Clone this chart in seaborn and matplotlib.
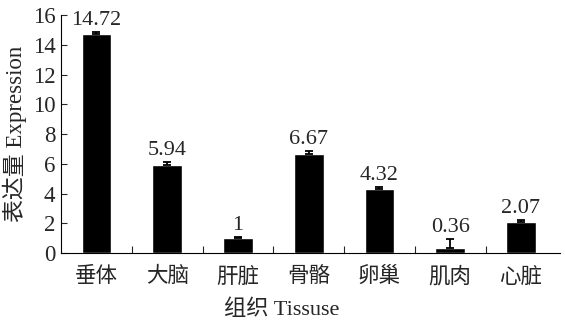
import numpy as np
import seaborn as sns
import matplotlib.pyplot as plt
from matplotlib.ticker import FixedLocator

tissues = ["垂体", "大脑", "肝脏", "骨骼", "卵巢", "肌肉", "心脏"]
expression = [14.72, 5.94, 1.0, 6.67, 4.32, 0.36, 2.07]
errors = [0.12, 0.2, 0.06, 0.18, 0.1, 0.6, 0.15]
value_labels = ["14.72", "5.94", "1", "6.67", "4.32", "0.36", "2.07"]

sns.set_style("ticks")
plt.rcParams['font.family'] = ['Liberation Serif', 'Noto Sans CJK SC']
plt.rcParams['xtick.direction'] = 'in'
plt.rcParams['ytick.direction'] = 'in'

fig = plt.figure(figsize=(5.65, 3.22), dpi=100)
ax = fig.add_axes([0.108, 0.214, 0.883, 0.739])

sns.barplot(x=tissues, y=expression, color="black", width=0.42,
            errorbar=None, saturation=1, ax=ax)
x = np.arange(len(tissues))
ax.errorbar(x, expression, yerr=[np.zeros(len(errors)), errors],
            fmt="none", ecolor="black", elinewidth=1.3, capsize=3, capthick=1.3)

for xi, yi, e, lab in zip(x, expression, errors, value_labels):
    ax.text(xi, yi + e + 0.15, lab, ha="center", va="bottom", fontsize=16)

ax.set_ylim(0, 16)
ax.set_yticks(range(0, 17, 2))
ax.set_xlim(-0.5, len(tissues) - 0.45)
ax.tick_params(axis="y", length=4, width=0.8, labelsize=16.5, pad=4)
ax.tick_params(axis="x", which="major", length=0, labelsize=15.5, pad=10)
ax.xaxis.set_minor_locator(FixedLocator(np.arange(0.5, len(tissues) - 1, 1)))
ax.tick_params(axis="x", which="minor", length=5, width=0.8)

ax.set_ylabel("表达量 Expression", fontsize=16.5, labelpad=4)
ax.set_xlabel("组织 Tissuse", fontsize=16)
ax.xaxis.set_label_coords(0.443, -0.195)
sns.despine(ax=ax)
for s in ["left", "bottom"]:
    ax.spines[s].set_linewidth(0.8)
    ax.spines[s].set_color("black")

fig.savefig("out.png", dpi=100)
